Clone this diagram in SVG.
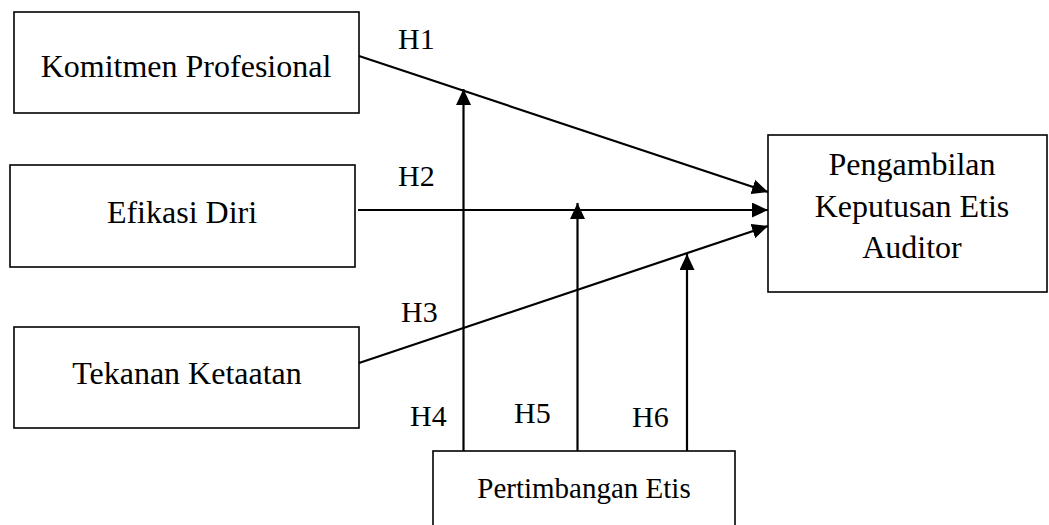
<svg xmlns="http://www.w3.org/2000/svg" width="1049" height="525" viewBox="0 0 1049 525">
<style>
.box{fill:#fff;stroke:#000;stroke-width:1.6}
.t{font-family:"Liberation Serif","Times New Roman",serif;font-size:32px;fill:#000;text-anchor:middle}
.h{font-family:"Liberation Serif","Times New Roman",serif;font-size:30px;fill:#000}
.c{stroke:#000;stroke-width:2.2;fill:none;marker-end:url(#ah)}
</style>
<defs>
<marker id="ah" markerUnits="userSpaceOnUse" markerWidth="17" markerHeight="15" refX="16" refY="7.5" orient="auto">
<path d="M0,0 L16,7.5 L0,15 Z" fill="#000"/>
</marker>
</defs>
<rect width="1049" height="525" fill="#fff"/>
<g id="n-komitmen"><rect class="box" x="14" y="12" width="345" height="101"/><text class="t" x="186" y="77">Komitmen Profesional</text></g>
<g id="n-efikasi"><rect class="box" x="10" y="165" width="345" height="102"/><text class="t" x="182" y="223">Efikasi Diri</text></g>
<g id="n-tekanan"><rect class="box" x="14" y="327" width="345" height="101"/><text class="t" x="187" y="384">Tekanan Ketaatan</text></g>
<g id="n-pengambilan"><rect class="box" x="768" y="135" width="279" height="157"/><text class="t" x="912" y="175">Pengambilan</text><text class="t" x="912" y="217">Keputusan Etis</text><text class="t" x="912" y="258">Auditor</text></g>
<g id="n-pertimbangan"><rect class="box" x="433" y="451" width="302" height="90"/><text class="t" x="584" y="498" style="font-size:29px">Pertimbangan Etis</text></g>
<g id="connectors">
<line class="c" x1="359" y1="56" x2="768" y2="192"/>
<line class="c" x1="358" y1="210" x2="768" y2="210"/>
<line class="c" x1="359" y1="363" x2="768" y2="226"/>
<line class="c" x1="463.5" y1="451" x2="463.5" y2="89"/>
<line class="c" x1="577.5" y1="451" x2="577.5" y2="203"/>
<line class="c" x1="687" y1="451" x2="687" y2="254"/>
</g>
<g id="labels">
<text class="h" x="398" y="49">H1</text>
<text class="h" x="398" y="186">H2</text>
<text class="h" x="401" y="322">H3</text>
<text class="h" x="410" y="426">H4</text>
<text class="h" x="514" y="423">H5</text>
<text class="h" x="632" y="427">H6</text>
</g>
</svg>
